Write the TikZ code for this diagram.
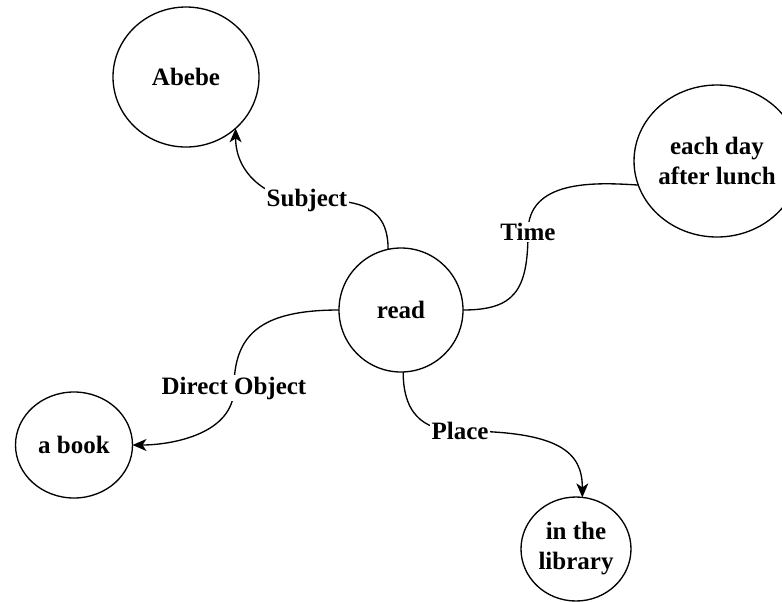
\documentclass[tikz,border=0pt]{standalone}
\usepackage{fontspec}
\setmainfont{Liberation Serif}
\usetikzlibrary{shapes.geometric,arrows.meta}
\begin{document}
\begin{tikzpicture}[x=0.75pt,y=-0.75pt,
  txt/.style={font=\fontsize{18.75}{22.5}\selectfont\bfseries},
  concept/.style={ellipse,draw,line width=1pt,inner sep=0pt,outer sep=0pt,align=center,txt},
  rel/.style={fill=white,inner sep=1pt,txt},
  conn/.style={line width=1pt},
  arr/.style={conn,-{Stealth[length=10.5pt,width=9pt,inset=3pt]}}]
\useasboundingbox (0,0) rectangle (782,601);
\node[concept,minimum width=109.5pt,minimum height=105pt] (abebe) at (186,77) {Abebe};
\node[concept,minimum width=93pt,minimum height=93pt] (read) at (401,310) {read};
\node[concept,minimum width=112.5pt,minimum height=114pt] (each) at (717,161) {each day\\after lunch};
\node[concept,minimum width=87.75pt,minimum height=79.5pt] (book) at (74,445) {a book};
\node[concept,minimum width=82.5pt,minimum height=78pt] (lib) at (576,549) {in the\\library};
\coordinate (subjpt) at (307,200);
\coordinate (timept) at (528,232);
\coordinate (dopt) at (234,388);
\coordinate (placept) at (460,431);
\draw[arr] (read.102) .. controls +(0,-48) and +(45,0) .. (subjpt) .. controls +(-40,0) and +(0,45) .. (abebe.314);
\draw[conn] (read.east) .. controls +(52,0) and +(0,58) .. (timept) .. controls +(0,-52) and +(-45,-3) .. (each.197);
\draw[arr] (read.west) .. controls +(-79,0) and +(0,-53) .. (dopt) .. controls +(0,47) and +(37,0) .. (book.east);
\draw[arr] (read.272) .. controls +(0,48) and +(-30,0) .. (placept) .. controls +(100,0) and +(0,-45) .. (lib.83);
\node[rel] (subj) at (subjpt) {Subject};
\node[rel] (time) at (timept) {Time};
\node[rel] (dobj) at (dopt) {Direct Object};
\node[rel] (place) at (placept) {Place};
\end{tikzpicture}
\end{document}
